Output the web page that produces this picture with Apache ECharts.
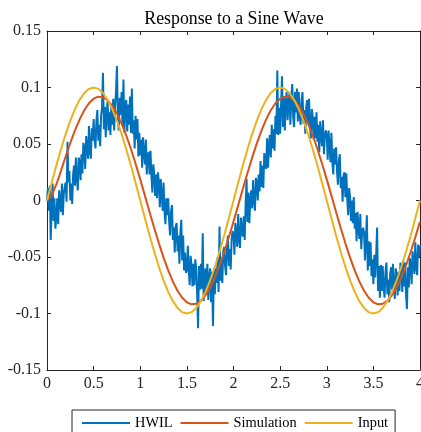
<!DOCTYPE html>
<html>
<head>
<meta charset="utf-8">
<script src="https://cdn.jsdelivr.net/npm/echarts@6/dist/echarts.min.js"></script>
<style>
html,body{margin:0;padding:0;background:#fff;}
#c{width:421px;height:432px;}
</style>
</head>
<body>
<div id="c"></div>
<script>
const titleText = 'Response to a Sine Wave';
const seriesNames = ['HWIL', 'Simulation', 'Input'];
const hwilStep = 0.01;
const smoothStep = 0.05;

// HWIL samples, x = 0 .. 4 every 0.01
const hwil = [
  0, 0.011, -0.009, 0.013, -0.035, -0.008, 0.015, -0.018, 0.002, -0.025,
  -0.015, 0.002, -0.021, 0.009, -0.002, -0.010, 0.015, -0.013, 0.006, 0.012,
  0.016, -0.001, 0.052, 0.016, 0.026, 0.000, 0.015, -0.003, 0.023, 0.031,
  0.013, 0.038, 0.020, 0.009, 0.038, 0.034, 0.018, 0.041, 0.024, 0.051,
  0.046, 0.028, 0.057, 0.047, 0.037, 0.066, 0.044, 0.037, 0.064, 0.053,
  0.072, 0.054, 0.046, 0.071, 0.080, 0.053, 0.067, 0.048, 0.075, 0.082,
  0.113, 0.063, 0.083, 0.056, 0.078, 0.088, 0.062, 0.078, 0.058, 0.085,
  0.067, 0.090, 0.062, 0.084, 0.096, 0.119, 0.072, 0.062, 0.091, 0.076,
  0.096, 0.066, 0.107, 0.060, 0.083, 0.089, 0.061, 0.085, 0.067, 0.092,
  0.060, 0.099, 0.059, 0.071, 0.046, 0.075, 0.054, 0.072, 0.039, 0.060,
  0.040, 0.054, 0.029, 0.056, 0.042, 0.032, 0.054, 0.023, 0.039, 0.043,
  0.023, 0.044, 0.022, 0.007, 0.032, 0.024, 0.004, 0.023, 0.002, 0.025,
  0.016, -0.006, 0.019, 0.005, -0.009, 0.016, -0.010, -0.021, 0.002, -0.013,
  0.002, -0.019, -0.031, -0.010, -0.004, -0.035, -0.024, -0.046, -0.023, -0.020,
  -0.045, -0.031, -0.056, -0.029, -0.017, -0.053, -0.031, -0.062, -0.046, -0.064,
  -0.062, -0.040, -0.062, -0.075, -0.049, -0.057, -0.076, -0.056, -0.075, -0.052,
  -0.060, -0.083, -0.113, -0.058, -0.079, -0.056, -0.078, -0.029, -0.089, -0.068,
  -0.060, -0.083, -0.056, -0.088, -0.068, -0.060, -0.090, -0.063, -0.111, -0.060,
  -0.083, -0.060, -0.073, -0.050, -0.081, -0.023, -0.071, -0.055, -0.073, -0.045,
  -0.041, -0.058, -0.066, -0.041, -0.031, -0.058, -0.043, -0.061, -0.034, -0.027,
  -0.030, -0.048, -0.020, -0.030, -0.041, -0.012, -0.034, -0.042, -0.015, -0.027,
  -0.032, -0.014, -0.035, -0.003, 0.019, -0.019, 0.007, -0.020, 0.001, 0.009,
  -0.007, 0.018, 0.000, -0.009, 0.020, 0.016, 0.000, 0.023, 0.008, 0.035,
  0.012, 0.031, 0.011, 0.042, 0.033, 0.028, 0.055, 0.029, 0.049, 0.058,
  0.038, 0.067, 0.046, 0.063, 0.044, 0.075, 0.059, 0.115, 0.058, 0.082,
  0.059, 0.084, 0.110, 0.065, 0.092, 0.062, 0.086, 0.096, 0.071, 0.086,
  0.095, 0.067, 0.091, 0.103, 0.074, 0.065, 0.096, 0.078, 0.099, 0.070,
  0.096, 0.076, 0.067, 0.089, 0.096, 0.068, 0.080, 0.059, 0.083, 0.089,
  0.068, 0.090, 0.068, 0.055, 0.081, 0.074, 0.054, 0.074, 0.055, 0.078,
  0.052, 0.067, 0.043, 0.070, 0.057, 0.048, 0.071, 0.041, 0.057, 0.062,
  0.058, 0.036, 0.062, 0.048, 0.034, 0.060, 0.034, 0.023, 0.046, 0.032,
  0.047, 0.026, 0.014, 0.035, 0.041, 0.011, 0.021, -0.001, 0.022, 0.025,
  0.003, 0.024, 0.001, -0.013, 0.011, 0.003, -0.018, 0.000, -0.020, 0.003,
  -0.025, -0.011, -0.036, -0.010, -0.024, -0.034, -0.012, -0.043, -0.028, -0.024,
  -0.028, -0.053, -0.035, -0.013, -0.062, -0.036, -0.058, -0.037, -0.067, -0.052,
  -0.074, -0.048, -0.068, -0.048, -0.024, -0.080, -0.058, -0.086, -0.057, -0.080,
  -0.058, -0.077, -0.086, -0.063, -0.055, -0.083, -0.070, -0.090, -0.065, -0.059,
  -0.079, -0.056, -0.076, -0.087, -0.060, -0.066, -0.084, -0.063, -0.080, -0.055,
  -0.060, -0.081, -0.053, -0.076, -0.055, -0.083, -0.096, -0.059, -0.077, -0.051,
  -0.056, -0.074, -0.045, -0.055, -0.065, -0.037, -0.059, -0.066, -0.039, -0.050,
  -0.040];

// Simulation and Input, x = 0 .. 4 every 0.05
const simulation = [0, 0.0044, 0.0142, 0.0262, 0.0389, 0.0509, 0.0621, 0.0718, 0.0799, 0.0861,
  0.0901, 0.0919, 0.0914, 0.0887, 0.0838, 0.0769, 0.0680, 0.0575, 0.0456, 0.0325,
  0.0187, 0.0043, -0.0101, -0.0243, -0.0379, -0.0505, -0.0619, -0.0718, -0.0799, -0.0861,
  -0.0901, -0.0919, -0.0914, -0.0887, -0.0838, -0.0769, -0.0680, -0.0575, -0.0456, -0.0325,
  -0.0187, -0.0043, 0.0101, 0.0243, 0.0379, 0.0505, 0.0619, 0.0718, 0.0799, 0.0861,
  0.0901, 0.0919, 0.0914, 0.0887, 0.0838, 0.0769, 0.0680, 0.0575, 0.0456, 0.0325,
  0.0187, 0.0043, -0.0101, -0.0243, -0.0379, -0.0505, -0.0619, -0.0718, -0.0799, -0.0861,
  -0.0901, -0.0919, -0.0914, -0.0887, -0.0838, -0.0769, -0.0680, -0.0575, -0.0456, -0.0325,
  -0.0187];

const input = [0, 0.0156, 0.0309, 0.0454, 0.0588, 0.0707, 0.0809, 0.0891, 0.0951, 0.0988,
  0.1, 0.0988, 0.0951, 0.0891, 0.0809, 0.0707, 0.0588, 0.0454, 0.0309, 0.0156,
  0, -0.0156, -0.0309, -0.0454, -0.0588, -0.0707, -0.0809, -0.0891, -0.0951, -0.0988,
  -0.1, -0.0988, -0.0951, -0.0891, -0.0809, -0.0707, -0.0588, -0.0454, -0.0309, -0.0156,
  0, 0.0156, 0.0309, 0.0454, 0.0588, 0.0707, 0.0809, 0.0891, 0.0951, 0.0988,
  0.1, 0.0988, 0.0951, 0.0891, 0.0809, 0.0707, 0.0588, 0.0454, 0.0309, 0.0156,
  0, -0.0156, -0.0309, -0.0454, -0.0588, -0.0707, -0.0809, -0.0891, -0.0951, -0.0988,
  -0.1, -0.0988, -0.0951, -0.0891, -0.0809, -0.0707, -0.0588, -0.0454, -0.0309, -0.0156,
  0];

function pairs(vals, step) {
  return vals.map((v, i) => [Math.round(i * step * 1000) / 1000, v]);
}

const axisColor = '#262626';
const font = '"Liberation Serif", "Times New Roman", serif';

function axisCommon(extra) {
  return Object.assign({
    type: 'value',
    axisLine: {show: true, onZero: false, lineStyle: {color: axisColor, width: 1}},
    axisTick: {show: true, inside: true, length: 4, lineStyle: {color: axisColor}},
    splitLine: {show: false}
  }, extra);
}

const chart = echarts.init(document.getElementById('c'), null, {renderer: 'canvas'});
chart.setOption({
  animation: false,
  backgroundColor: '#ffffff',
  title: {
    text: titleText,
    left: 229,
    textAlign: 'center',
    top: 5,
    textStyle: {fontFamily: font, fontSize: 17.8, fontWeight: 'normal', color: '#000'}
  },
  legend: {
    data: seriesNames,
    left: 72,
    top: 410,
    icon: 'rect',
    itemWidth: 48,
    itemHeight: 2,
    itemGap: 8,
    padding: [6, 7, 6, 10],
    borderColor: axisColor,
    borderWidth: 1,
    borderRadius: 0,
    textStyle: {fontFamily: font, fontSize: 14.4, color: '#000'}
  },
  grid: {left: 47, right: 1, top: 31, bottom: 62, containLabel: false, outerBoundsMode: 'none'},
  xAxis: [
    axisCommon({min: 0, max: 4, interval: 0.5, position: 'bottom',
      axisLabel: {show: true, margin: 6, color: axisColor, fontFamily: font, fontSize: 16}}),
    axisCommon({min: 0, max: 4, interval: 0.5, position: 'top', axisLabel: {show: false}})
  ],
  yAxis: [
    axisCommon({min: -0.15, max: 0.15, interval: 0.05, position: 'left',
      axisLabel: {show: true, margin: 6, color: axisColor, fontFamily: font, fontSize: 16}}),
    axisCommon({min: -0.15, max: 0.15, interval: 0.05, position: 'right', axisLabel: {show: false}})
  ],
  series: [{
    name: seriesNames[0], type: 'line', symbol: 'none', showSymbol: false,
    data: pairs(hwil, hwilStep),
    lineStyle: {color: '#0072BD', width: 2}, itemStyle: {color: '#0072BD'}
  }, {
    name: seriesNames[1], type: 'line', symbol: 'none', showSymbol: false,
    data: pairs(simulation, smoothStep),
    lineStyle: {color: '#D95319', width: 2}, itemStyle: {color: '#D95319'}
  }, {
    name: seriesNames[2], type: 'line', symbol: 'none', showSymbol: false,
    data: pairs(input, smoothStep),
    lineStyle: {color: '#EDB120', width: 2}, itemStyle: {color: '#EDB120'}
  }]
});
</script>
</body>
</html>
